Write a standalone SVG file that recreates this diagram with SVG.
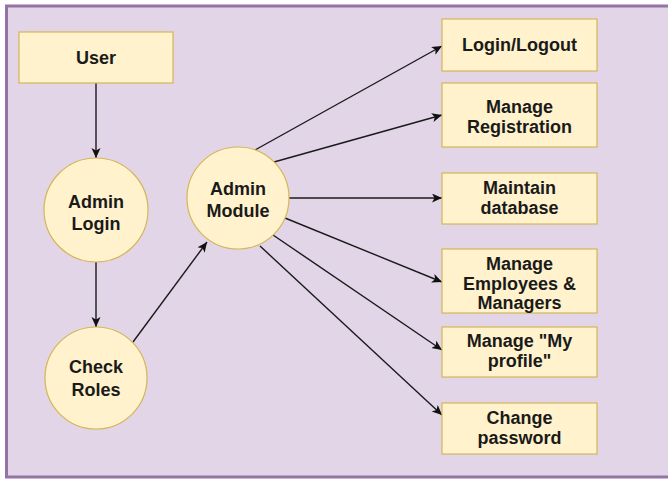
<svg xmlns="http://www.w3.org/2000/svg" width="668" height="479" viewBox="0 0 668 479">
  <defs>
    <marker id="arrow" markerUnits="userSpaceOnUse" markerWidth="12" markerHeight="10" refX="10" refY="4.5" orient="auto">
      <path d="M0,0 L10,4.5 L0,9 L2.5,4.5 Z" fill="#111"/>
    </marker>
  </defs>
  <style>
    .frame { fill: #e1d5e7; stroke: #9673a6; stroke-width: 3; }
    .box { fill: #fff2cc; stroke: #d6b656; stroke-width: 1.2; }
    .lbl { font-family: "Liberation Sans", Arial, sans-serif; font-weight: bold; font-size: 18px; fill: #1a1a1a; text-anchor: middle; }
    .edge { fill: none; stroke: #1a1a1a; stroke-width: 1.4; marker-end: url(#arrow); }
  </style>

  <!-- background panel -->
  <rect class="frame" x="6.5" y="6" width="680" height="471"/>

  <!-- connectors -->
  <g id="connectors">
    <path class="edge" d="M96 83 L96 158"/>
    <path class="edge" d="M96 262 L96 327"/>
    <path class="edge" d="M133 342 L207 242"/>
    <path class="edge" d="M255 150 L442 46"/>
    <path class="edge" d="M274 162 L442 115"/>
    <path class="edge" d="M289 198 L442 198"/>
    <path class="edge" d="M285 218 L442 282"/>
    <path class="edge" d="M273 235 L442 350"/>
    <path class="edge" d="M260 246 L442 415"/>
  </g>

  <!-- left column -->
  <g id="user">
    <rect class="box" x="19" y="32" width="154" height="51"/>
    <text class="lbl" x="96" y="64">User</text>
  </g>
  <g id="admin-login">
    <circle class="box" cx="96" cy="210" r="52"/>
    <text class="lbl" x="96" y="208">Admin</text>
    <text class="lbl" x="96" y="230">Login</text>
  </g>
  <g id="check-roles">
    <circle class="box" cx="96" cy="378" r="51"/>
    <text class="lbl" x="96" y="373">Check</text>
    <text class="lbl" x="96" y="396">Roles</text>
  </g>

  <!-- hub -->
  <g id="admin-module">
    <circle class="box" cx="238" cy="198" r="51"/>
    <text class="lbl" x="238" y="195">Admin</text>
    <text class="lbl" x="238" y="217">Module</text>
  </g>

  <!-- functions -->
  <g id="login-logout">
    <rect class="box" x="442" y="19" width="155" height="52"/>
    <text class="lbl" x="519.5" y="51">Login/Logout</text>
  </g>
  <g id="manage-registration">
    <rect class="box" x="442" y="83" width="155" height="64"/>
    <text class="lbl" x="519.5" y="113">Manage</text>
    <text class="lbl" x="519.5" y="133">Registration</text>
  </g>
  <g id="maintain-database">
    <rect class="box" x="442" y="173" width="155" height="51"/>
    <text class="lbl" x="519.5" y="194">Maintain</text>
    <text class="lbl" x="519.5" y="214">database</text>
  </g>
  <g id="manage-employees">
    <rect class="box" x="442" y="249" width="155" height="64"/>
    <text class="lbl" x="519.5" y="270">Manage</text>
    <text class="lbl" x="519.5" y="290">Employees &amp;</text>
    <text class="lbl" x="519.5" y="309">Managers</text>
  </g>
  <g id="manage-profile">
    <rect class="box" x="442" y="327" width="155" height="50"/>
    <text class="lbl" x="519.5" y="347">Manage "My</text>
    <text class="lbl" x="519.5" y="367">profile"</text>
  </g>
  <g id="change-password">
    <rect class="box" x="442" y="403" width="155" height="51"/>
    <text class="lbl" x="519.5" y="424">Change</text>
    <text class="lbl" x="519.5" y="444">password</text>
  </g>
</svg>
